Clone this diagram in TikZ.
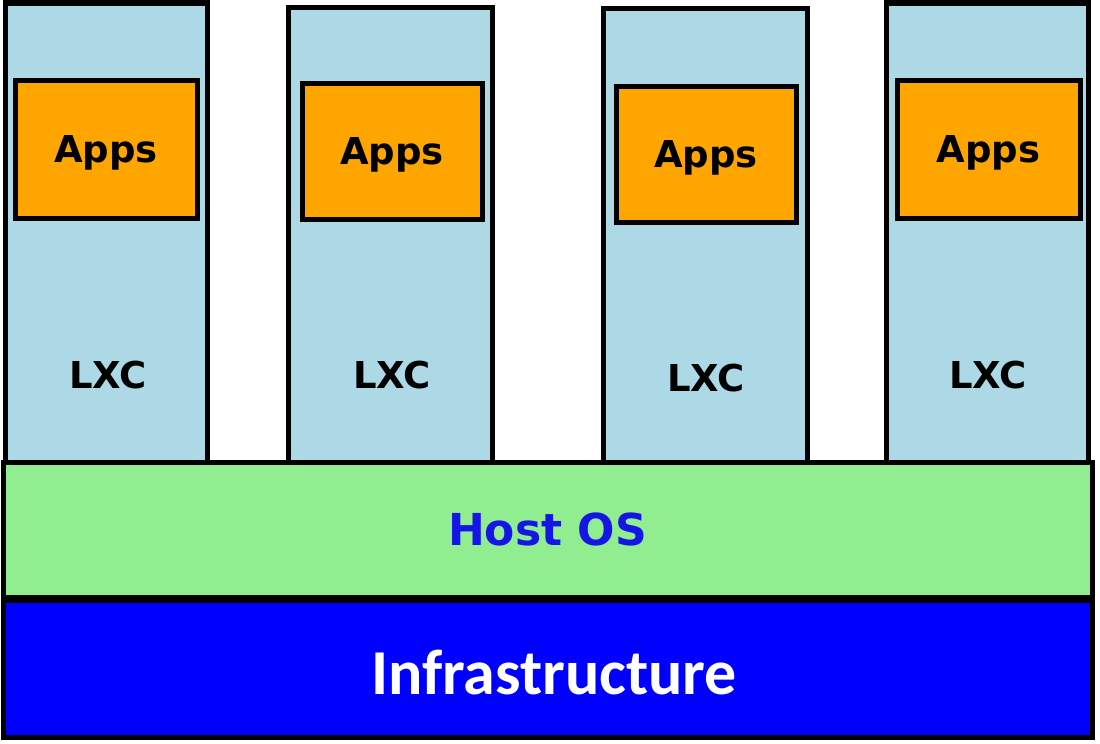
\documentclass[tikz,border=0pt]{standalone}
\usepackage{fontspec}
\newfontfamily\dejavu{DejaVu Sans}
\newfontfamily\carlito{Carlito}
\definecolor{lxcblue}{HTML}{ADD8E6}
\definecolor{appsorange}{HTML}{FFA500}
\definecolor{hostgreen}{HTML}{90EE90}
\definecolor{infrablue}{HTML}{0000FF}
\definecolor{hosttext}{HTML}{1515E6}
\begin{document}
\begin{tikzpicture}[x=1pt,y=-1pt,
  box/.style={draw=black,line width=5pt,rectangle,inner sep=0pt,outer sep=0pt},
  lxcbox/.style={box,fill=lxcblue},
  appsbox/.style={box,fill=appsorange,text depth=0pt,font=\dejavu\bfseries\fontsize{37pt}{42pt}\selectfont},
  lxclabel/.style={inner sep=0pt,font=\dejavu\bfseries\fontsize{37pt}{42pt}\selectfont},
  hostbox/.style={box,fill=hostgreen,text=hosttext,font=\dejavu\bfseries\fontsize{44pt}{50pt}\selectfont},
  infrabox/.style={box,fill=infrablue},
  infralabel/.style={inner sep=0pt,text=white,font=\carlito\bfseries\fontsize{64pt}{72pt}\selectfont}
]
\useasboundingbox (0,0) rectangle (1100,744);
\fill[white] (0,0) rectangle (1100,744);
% containers
\node[lxcbox,minimum width=202pt,minimum height=459pt] (c1) at (106,232.5) {};
\node[lxcbox,minimum width=204pt,minimum height=456pt] (c2) at (390,235) {};
\node[lxcbox,minimum width=204pt,minimum height=458pt] (c3) at (705,237) {};
\node[lxcbox,minimum width=202pt,minimum height=459pt] (c4) at (987,232.5) {};
% apps
\node[appsbox,minimum width=182pt,minimum height=138pt] (a1) at (106,149) {Apps};
\node[appsbox,minimum width=180pt,minimum height=136pt] (a2) at (392,151) {Apps};
\node[appsbox,minimum width=180pt,minimum height=136pt] (a3) at (706,154) {Apps};
\node[appsbox,minimum width=183pt,minimum height=138pt] (a4) at (988.5,149) {Apps};
% LXC labels
\node[lxclabel] (l1) at (108,375) {LXC};
\node[lxclabel] (l2) at (392,375) {LXC};
\node[lxclabel] (l3) at (706,378) {LXC};
\node[lxclabel] (l4) at (988,375) {LXC};
% host OS
\node[hostbox,minimum width=1089pt,minimum height=135pt] (host) at (547.5,529.5) {Host OS};
% infrastructure
\node[infrabox,minimum width=1089pt,minimum height=137pt] (infra) at (547.5,668.5) {};
\node[infralabel] (infral) at (554,672) {Infrastructure};
\end{tikzpicture}
\end{document}
